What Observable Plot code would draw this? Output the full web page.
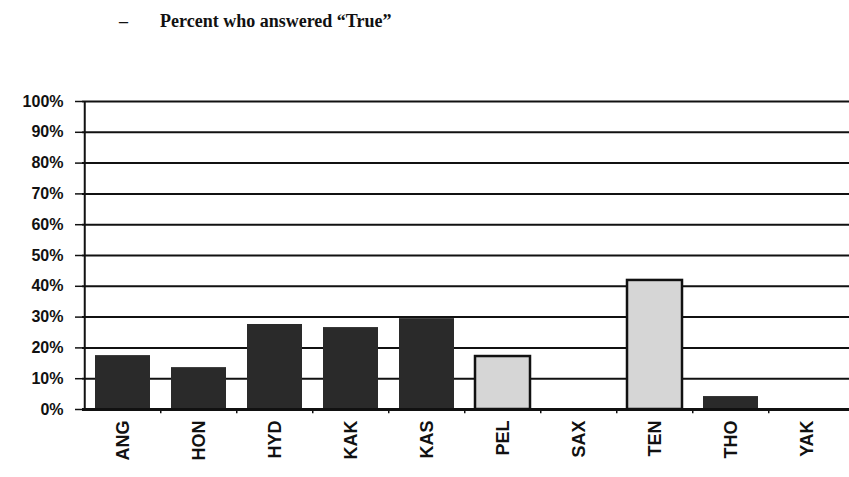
<!DOCTYPE html>
<html>
<head>
<meta charset="utf-8">
<script src="https://cdn.jsdelivr.net/npm/d3@7"></script>
<script src="https://cdn.jsdelivr.net/npm/@observablehq/plot@0.6"></script>
<style>
  html, body { margin: 0; padding: 0; background: #fff; }
  #wrap { position: relative; width: 849px; height: 477px; }
  #title { position: absolute; z-index: 2; left: 119px; top: 11px; font-family: "Liberation Serif", "DejaVu Serif", serif; font-weight: bold; font-size: 18px; color: #111; white-space: nowrap; }
  #title .dash { display: inline-block; width: 41px; }
</style>
</head>
<body>
<div id="wrap">
  <div id="title"><span class="dash">–</span>Percent who answered “True”</div>
</div>
<script>
const groups = ["ANG", "HON", "HYD", "KAK", "KAS", "PEL", "SAX", "TEN", "THO", "YAK"];
const percentTrue = [0.175, 0.136, 0.276, 0.266, 0.295, 0.172, 0, 0.419, 0.042, 0];
const shade = ["dark", "dark", "dark", "dark", "dark", "light", "dark", "light", "dark", "dark"];
const yTicks = [0, 0.1, 0.2, 0.3, 0.4, 0.5, 0.6, 0.7, 0.8, 0.9, 1.0];

const data = groups.map((g, i) => ({group: g, value: percentTrue[i], shade: shade[i]}));

const W = 849, H = 477, mL = 82, mR = 2, mT = 101, mB = 68;
const pad = 0.28;
const step = (W - mL - mR) / groups.length;

const chart = Plot.plot({
  width: W,
  height: H,
  marginLeft: mL,
  marginRight: mR,
  marginTop: mT,
  marginBottom: mB,
  style: {background: "#fff", fontFamily: "'Liberation Sans', Arial, sans-serif", color: "#111"},
  x: {domain: groups, paddingInner: pad, paddingOuter: pad / 2},
  y: {domain: [0, 1]},
  marks: [
    Plot.ruleY(yTicks, {y: d => d, stroke: "#111", strokeWidth: 2, insetRight: -2}),
    Plot.barY(data.filter(d => d.value > 0), {
      x: "group", y: "value",
      fill: d => d.shade === "light" ? "#d6d6d6" : "#2a2a2a",
      stroke: d => d.shade === "light" ? "#111" : "none",
      strokeWidth: 2.5
    }),
    Plot.ruleX(groups.slice(1), {x: d => d, dx: -step / 2, stroke: "#111", strokeWidth: 1.5, y1: 0, y2: -0.014}),
    Plot.ruleX([0], {x: d => groups[0], dx: -step / 2, y1: 0, y2: 1, stroke: "#111", strokeWidth: 2}),
    Plot.axisY({
      ticks: yTicks, tickFormat: d3.format(".0%"), tickSize: 7, tickPadding: 12,
      fontSize: 16, fontWeight: "bold", label: null, stroke: "#111", strokeWidth: 1.5,
      style: {letterSpacing: "1.2px"}
    }),
    Plot.axisX({
      tickSize: 0, tickRotate: -90, tickPadding: 11, fontSize: 18, fontWeight: "bold", label: null
    }),
    Plot.ruleY([0], {stroke: "#111", strokeWidth: 3, insetRight: -2})
  ]
});
chart.style.position = "absolute";
chart.style.left = "0";
chart.style.top = "0";
chart.style.zIndex = "1";
document.getElementById("wrap").appendChild(chart);
</script>
</body>
</html>
